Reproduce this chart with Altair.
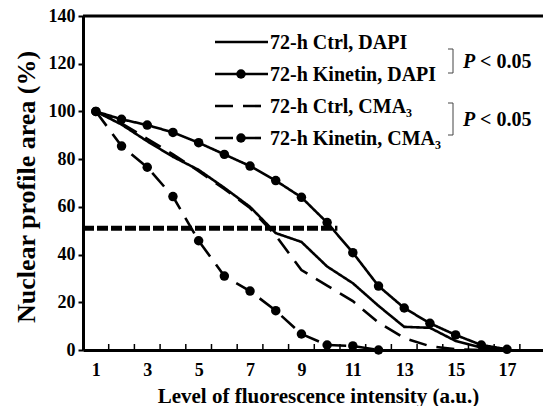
import altair as alt
import pandas as pd

# ---------------- data ----------------
levels = [1, 2, 3, 4, 5, 6, 7, 8, 9, 10, 11, 12, 13, 14, 15, 16, 17]
ctrl_dapi = [100, 94.5, 87.5, 81, 75.5, 68, 60, 49, 45.3, 35, 28, 18.5, 9.7, 9.3, 3.8, 1.0, 0]
kin_dapi = [100, 96.7, 94.3, 91.2, 86.9, 82.0, 77.1, 71.0, 64.0, 53.4, 40.8, 26.8, 17.6, 11.2, 6.3, 2.1, 0.3]
ctrl_cma = [100, 95, 88.5, 82, 75, 67.5, 59.5, 48, 33.5, 27, 20.5, 11.5, 5, 1.6, 0.3, 0, 0]
kin_cma_levels = [1, 2, 3, 4, 5, 6, 7, 8, 9, 10, 11, 12]
kin_cma = [100, 85.5, 76.6, 64.3, 45.8, 31.0, 24.7, 16.5, 6.7, 2.1, 1.7, 0]

ref_level_start = [0.5]
ref_level_end = [10.4]
ref_value = [51]

x_labels = [1, 3, 5, 7, 9, 11, 13, 15, 17]
x_ticks = [1.5, 2.5, 3.5, 4.5, 5.5, 6.5, 7.5, 8.5, 9.5, 10.5, 11.5, 12.5, 13.5, 14.5, 15.5, 16.5, 17.5]
y_ticks = [0, 20, 40, 60, 80, 100, 120, 140]

series_names = ["72-h Ctrl, DAPI", "72-h Kinetin, DAPI", "72-h Ctrl, CMA₃", "72-h Kinetin, CMA₃"]
y_title = "Nuclear profile area (%)"

# ---------------- layout ----------------
W, H = 460, 334
FONT = "Times New Roman, Liberation Serif, serif"

rows = []
for lv, v in zip(levels, ctrl_dapi):
    rows.append({"level": lv, "value": v, "series": series_names[0]})
for lv, v in zip(levels, kin_dapi):
    rows.append({"level": lv, "value": v, "series": series_names[1]})
for lv, v in zip(levels, ctrl_cma):
    rows.append({"level": lv, "value": v, "series": series_names[2]})
for lv, v in zip(kin_cma_levels, kin_cma):
    rows.append({"level": lv, "value": v, "series": series_names[3]})
df = pd.DataFrame(rows)
df_pts = df[df["series"].isin([series_names[1], series_names[3]])]

xscale = alt.Scale(domain=[0.5, 18.4], nice=False, zero=False)
yscale = alt.Scale(domain=[0, 140], nice=False)

x_axis = alt.Axis(
    values=x_labels, ticks=False, grid=False, domainWidth=3, domainColor="black",
    labelFont=FONT, labelFontWeight="bold", labelFontSize=18, labelColor="black",
    labelPadding=11, labelOverlap=False,
    title="Level of fluorescence intensity (a.u.)", titleFont=FONT, titleFontWeight="bold",
    titleFontSize=21, titleColor="black", titleX=235, titleY=52,
    titleBaseline="alphabetic", titleAlign="center",
)
y_axis = alt.Axis(
    values=y_ticks, grid=False, domainWidth=3, domainColor="black",
    tickColor="black", tickWidth=2, tickSize=5,
    labelFont=FONT, labelFontWeight="bold", labelFontSize=18, labelColor="black",
    labelPadding=3, title=None,
)

lines = alt.Chart(df).mark_line(color="black", strokeWidth=2.6).encode(
    x=alt.X("level:Q", scale=xscale, axis=x_axis),
    y=alt.Y("value:Q", scale=yscale, axis=y_axis),
    detail="series:N",
    strokeDash=alt.StrokeDash(
        "series:N",
        scale=alt.Scale(domain=series_names, range=[[1, 0], [1, 0], [18, 10], [18, 10]]),
        legend=None,
    ),
)

points = alt.Chart(df_pts).mark_point(filled=True, color="black", opacity=1, size=90).encode(
    x=alt.X("level:Q", scale=xscale),
    y=alt.Y("value:Q", scale=yscale),
)

ref = alt.Chart(pd.DataFrame({"x0": ref_level_start, "x1": ref_level_end, "y": ref_value})).mark_rule(
    color="black", strokeWidth=5, strokeDash=[11, 3]
).encode(
    x=alt.X("x0:Q", scale=xscale), x2="x1:Q", y=alt.Y("y:Q", scale=yscale)
)

ticks = alt.Chart(pd.DataFrame({"t": x_ticks})).mark_rule(color="black", strokeWidth=1.5).encode(
    x=alt.X("t:Q", scale=xscale), y=alt.value(H), y2=alt.value(H - 6)
)

top_frame = alt.Chart(pd.DataFrame({"a": [0]})).mark_rule(color="black", strokeWidth=3).encode(
    x=alt.value(0), x2=alt.value(W), y=alt.value(0)
)

ytitle = alt.Chart(pd.DataFrame({"t": [y_title]})).mark_text(
    angle=270, align="center", baseline="middle", font=FONT, fontWeight="bold",
    fontSize=26, color="black"
).encode(x=alt.value(-56), y=alt.value(171), text="t:N")

# ---------------- legend ----------------
legend_layers = []
leg_y = [26, 58, 90, 122]
leg_dash = [[1, 0], [1, 0], [18, 10], [18, 10]]
leg_dot = [False, True, False, True]
for name, py, dash, dot in zip(series_names, leg_y, leg_dash, leg_dot):
    one = pd.DataFrame({"label": [name]})
    legend_layers.append(
        alt.Chart(one).mark_rule(color="black", strokeWidth=2.6, strokeDash=dash).encode(
            x=alt.value(132), x2=alt.value(185), y=alt.value(py)
        )
    )
    if dot:
        legend_layers.append(
            alt.Chart(one).mark_point(filled=True, color="black", opacity=1, size=90).encode(
                x=alt.value(158), y=alt.value(py)
            )
        )
    legend_layers.append(
        alt.Chart(one).mark_text(
            align="left", baseline="alphabetic", font=FONT, fontWeight="bold", fontSize=20, color="black"
        ).encode(x=alt.value(187), y=alt.value(py + 7), text="label:N")
    )

# brackets with significance
bracket_layers = []
for top, bottom in [(33, 57), (87, 119)]:
    one = pd.DataFrame({"label": ["P"], "rest": ["< 0.05"]})
    bracket_layers.append(
        alt.Chart(one).mark_rule(color="#444444", strokeWidth=1).encode(
            x=alt.value(370), y=alt.value(top), y2=alt.value(bottom)
        )
    )
    for yy in (top, bottom):
        bracket_layers.append(
            alt.Chart(one).mark_rule(color="#444444", strokeWidth=1).encode(
                x=alt.value(365), x2=alt.value(370), y=alt.value(yy)
            )
        )
    mid = (top + bottom) / 2
    bracket_layers.append(
        alt.Chart(one).mark_text(
            align="left", baseline="alphabetic", font=FONT, fontWeight="bold", fontStyle="italic",
            fontSize=20, color="black"
        ).encode(x=alt.value(380), y=alt.value(mid + 7), text="label:N")
    )
    bracket_layers.append(
        alt.Chart(one).mark_text(
            align="left", baseline="alphabetic", font=FONT, fontWeight="bold", fontSize=20, color="black"
        ).encode(x=alt.value(397), y=alt.value(mid + 7), text="rest:N")
    )

chart = alt.layer(
    top_frame, ticks, ref, lines, points, ytitle, *legend_layers, *bracket_layers
).properties(
    width=W, height=H,
    padding={"left": 83, "top": 16, "right": 0, "bottom": 56},
    autosize=alt.AutoSizeParams(type="none"),
).configure_view(stroke=None).configure(background="white")

chart.save("out.html", embed_options={"renderer": "svg", "actions": False})
